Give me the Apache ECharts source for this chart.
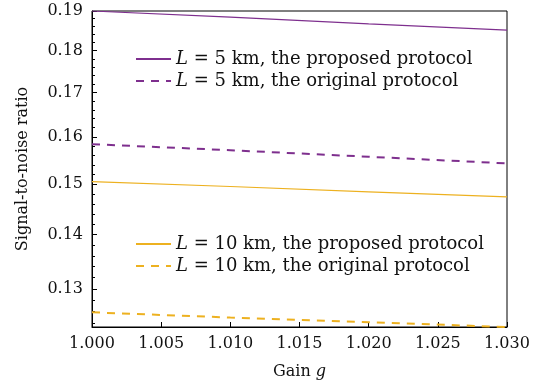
<!DOCTYPE html>
<html><head><meta charset="utf-8">
<script src="https://cdn.jsdelivr.net/npm/echarts@6/dist/echarts.min.js"></script>
<style>html,body{margin:0;padding:0;background:#fff}#c{width:541px;height:385px}</style>
</head><body><div id="c"></div>
<script>
const gains = [1.000, 1.010, 1.020, 1.030];
const snr5Proposed = [0.1900, 0.1884, 0.1867, 0.1851];
const snr5Original = [0.1584, 0.1571, 0.1557, 0.1543];
const snr10Proposed = [0.1505, 0.1495, 0.1484, 0.1474];
const snr10Original = [0.1259, 0.1250, 0.1242, 0.1234];
const yTicks = [0.13, 0.14, 0.15, 0.16, 0.17, 0.18, 0.19];
const yMinorTicks = [0.124, 0.126, 0.128, 0.132, 0.134, 0.136, 0.138, 0.142, 0.144, 0.146, 0.148,
  0.152, 0.154, 0.156, 0.158, 0.162, 0.164, 0.166, 0.168, 0.172, 0.174, 0.176, 0.178,
  0.182, 0.184, 0.186, 0.188];
const yMin = 0.1234, yMax = 0.19;
const names = ['L = 5 km, the proposed protocol', 'L = 5 km, the original protocol',
  'L = 10 km, the proposed protocol', 'L = 10 km, the original protocol'];
const purple = '#7E2F8E', yellow = '#EDB120';
const FF = 'DejaVu Serif';
const TC = '#111';

function pairs(vals) { return gains.map((g, i) => [g, vals[i]]); }

const chart = echarts.init(document.getElementById('c'), null, {renderer: 'canvas'});
const legendCommon = {
  orient: 'vertical', itemWidth: 35, itemHeight: 14, itemGap: 4,
  itemStyle: {opacity: 0},
  textStyle: {fontFamily: FF, fontSize: 18, color: TC, lineHeight: 18,
    rich: {i: {fontFamily: FF, fontSize: 18, fontStyle: 'italic', color: TC}}},
  formatter: n => '{i|L}' + n.slice(1)
};
chart.setOption({
  backgroundColor: '#fff',
  animation: false,
  grid: {left: 92, right: 34, top: 11, bottom: 58, show: true, borderColor: '#000', borderWidth: 1, backgroundColor: 'transparent'},
  legend: [
    Object.assign({left: 130, top: 45, data: [names[0], names[1]]}, legendCommon),
    Object.assign({left: 130, top: 230, data: [names[2], names[3]]}, legendCommon)
  ],
  xAxis: {
    type: 'value', min: 1, max: 1.03, interval: 0.005,
    name: 'Gain {i|g}', nameLocation: 'middle', nameGap: 37,
    nameTextStyle: {fontFamily: FF, fontSize: 16, color: TC,
      rich: {i: {fontFamily: FF, fontSize: 16, fontStyle: 'italic', color: TC}}},
    axisLine: {lineStyle: {color: '#000', width: 1}},
    axisTick: {inside: true, length: 5, lineStyle: {color: '#000'}},
    axisLabel: {fontFamily: FF, fontSize: 16, color: TC, margin: 9, formatter: v => v.toFixed(3)},
    splitLine: {show: false}
  },
  yAxis: [{
    type: 'log', logBase: 10, min: yMin, max: yMax,
    name: 'Signal-to-noise ratio', nameLocation: 'middle', nameGap: 61,
    nameTextStyle: {fontFamily: FF, fontSize: 16, color: TC},
    axisLine: {show: true, lineStyle: {color: '#000', width: 1}},
    axisTick: {inside: true, length: 5, customValues: yTicks, lineStyle: {color: '#000'}},
    axisLabel: {fontFamily: FF, fontSize: 16, color: TC, margin: 9, customValues: yTicks,
      formatter: v => v.toFixed(2)},
    splitLine: {show: false}, minorTick: {show: false}
  }, {
    type: 'log', logBase: 10, min: yMin, max: yMax, position: 'left',
    axisLine: {show: false},
    axisTick: {inside: true, length: 3, customValues: yMinorTicks, lineStyle: {color: '#000'}},
    axisLabel: {show: false},
    splitLine: {show: false}
  }],
  series: [
    {name: names[0], type: 'line', data: pairs(snr5Proposed), symbol: 'none', color: purple,
      lineStyle: {color: purple, width: 1.2, type: 'solid'}},
    {name: names[1], type: 'line', data: pairs(snr5Original), symbol: 'none', color: purple,
      lineStyle: {color: purple, width: 2, type: [8, 7]}},
    {name: names[2], type: 'line', data: pairs(snr10Proposed), symbol: 'none', color: yellow,
      lineStyle: {color: yellow, width: 1.2, type: 'solid'}},
    {name: names[3], type: 'line', data: pairs(snr10Original), symbol: 'none', color: yellow,
      lineStyle: {color: yellow, width: 2, type: [8, 7]}}
  ]
});
</script></body></html>
